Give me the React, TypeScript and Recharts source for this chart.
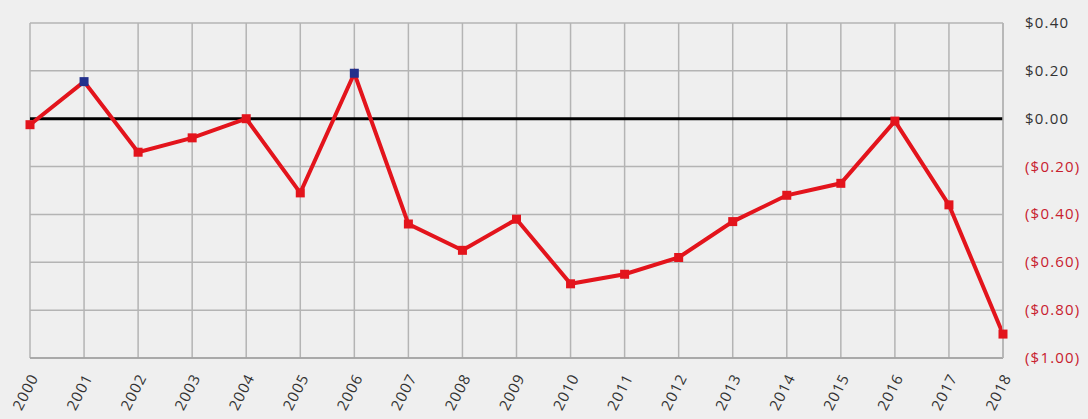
import React from "react";
import {
  LineChart,
  Line,
  XAxis,
  YAxis,
  CartesianGrid,
  ReferenceLine,
} from "recharts";

const years = [
  "2000", "2001", "2002", "2003", "2004", "2005", "2006", "2007", "2008", "2009",
  "2010", "2011", "2012", "2013", "2014", "2015", "2016", "2017", "2018",
];
const values = [
  -0.025, 0.155, -0.14, -0.08, 0.0, -0.31, 0.19, -0.44, -0.55, -0.42,
  -0.69, -0.65, -0.58, -0.43, -0.32, -0.27, -0.01, -0.36, -0.9,
];
const yTicks = [-1, -0.8, -0.6, -0.4, -0.2, 0, 0.2, 0.4];

const data = years.map((y, i) => ({ year: y, value: values[i] }));

const fmt = (v: number) => {
  const s = "$" + Math.abs(v).toFixed(2);
  return v < 0 ? "(" + s + ")" : s;
};

const FONT = "'Open Sans', Lato, sans-serif";

const YTick = (props: any) => {
  const { x, y, payload } = props;
  const v = payload.value;
  return (
    <text
      x={x + 14}
      y={y}
      dy={5}
      textAnchor="start"
      fontSize={15}
      letterSpacing={1.2}
      fontFamily={FONT}
      fill={v < 0 ? "#c8202e" : "#333333"}
    >
      {fmt(v)}
    </text>
  );
};

const XTick = (props: any) => {
  const { x, y, payload } = props;
  return (
    <g transform={`translate(${x + 9},${y + 11})`}>
      <text
        textAnchor="end"
        transform="rotate(-63)"
        fontSize={15}
        letterSpacing={1.1}
        fontFamily={FONT}
        fill="#333333"
      >
        {payload.value}
      </text>
    </g>
  );
};

const Dot = (props: any) => {
  const { cx, cy, payload } = props;
  if (cx == null || cy == null) return null;
  const s = 9;
  return (
    <rect
      x={cx - s / 2}
      y={cy - s / 2}
      width={s}
      height={s}
      fill={payload.value > 0.05 ? "#23308c" : "#e3141c"}
    />
  );
};

export default function App() {
  return (
    <div style={{ width: 1088, height: 419, background: "#efefef" }}>
      <style>{`body{margin:0;background:#efefef}`}</style>
      <LineChart
        width={1088}
        height={419}
        data={data}
        margin={{ top: 23, right: 0, left: 30, bottom: 0 }}
      >
        <CartesianGrid stroke="#b4b4b4" strokeWidth={1.5} />
        <XAxis
          dataKey="year"
          height={61}
          tick={<XTick />}
          tickLine={false}
          axisLine={{ stroke: "#a0a0a0", strokeWidth: 1.5 }}
          interval={0}
        />
        <YAxis
          orientation="right"
          width={85}
          domain={[-1, 0.4]}
          ticks={yTicks}
          tick={<YTick />}
          tickLine={false}
          axisLine={{ stroke: "#b4b4b4", strokeWidth: 1.5 }}
          allowDataOverflow
        />
        <ReferenceLine y={0} stroke="#000000" strokeWidth={3} />
        <Line
          type="linear"
          dataKey="value"
          stroke="#e3141c"
          strokeWidth={4}
          dot={<Dot />}
          activeDot={false}
          isAnimationActive={false}
        />
      </LineChart>
    </div>
  );
}
